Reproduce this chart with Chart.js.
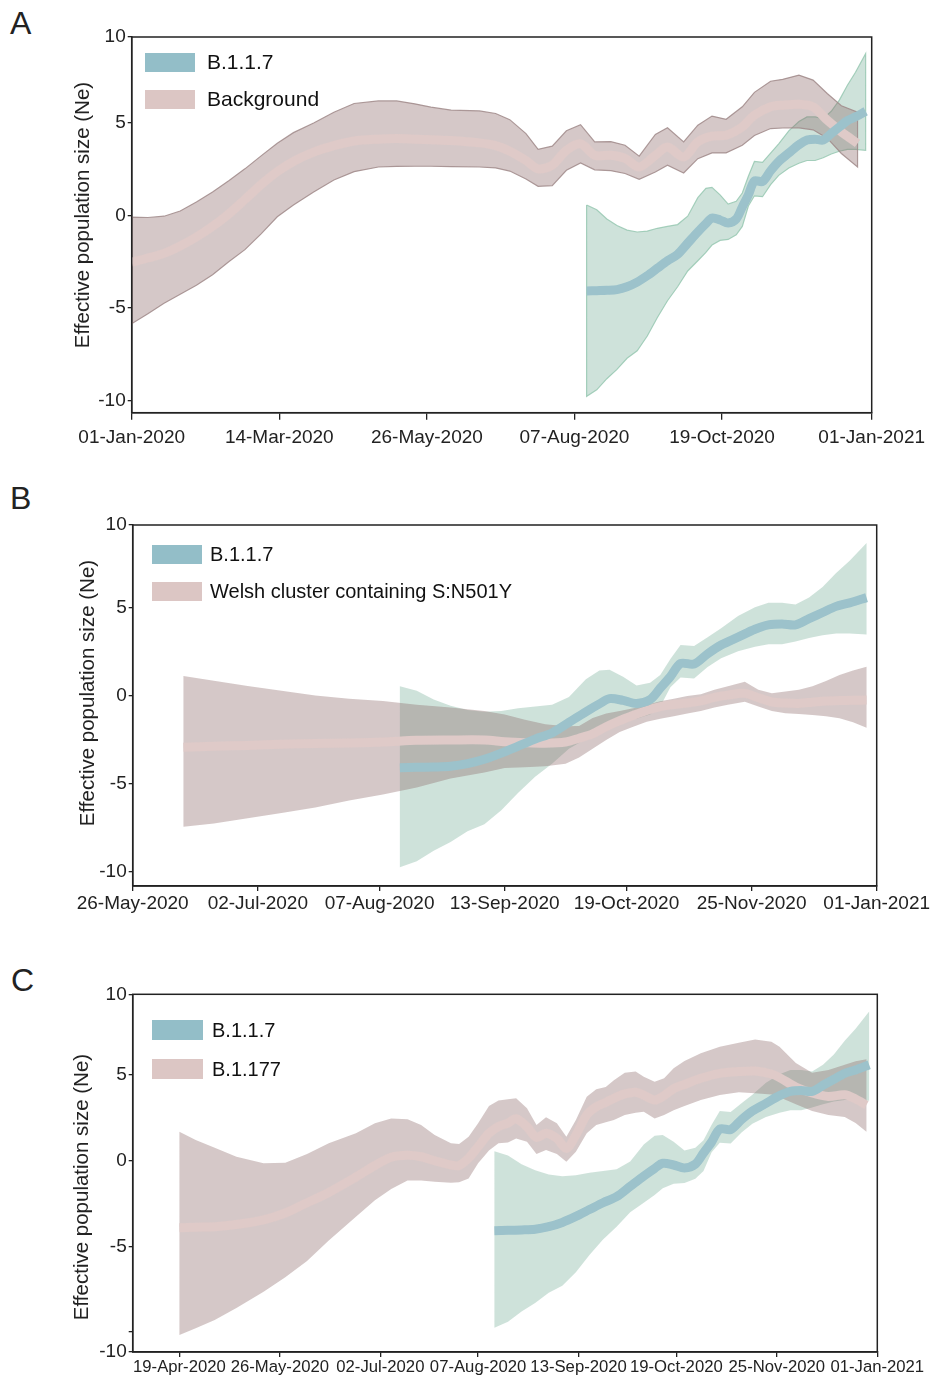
<!DOCTYPE html>
<html>
<head>
<meta charset="utf-8">
<script src="https://cdn.jsdelivr.net/npm/chart.js@4.4.1/dist/chart.umd.min.js"></script>
<style>
  body { margin: 0; background: #fff; }
  #wrap { position: relative; width: 944px; height: 1378px; font-family: "Liberation Sans", Arial, sans-serif; }
  canvas { position: absolute; left: 0; }
  .tag { position: absolute; font-size: 32px; line-height: 32px; color: #222; }
</style>
</head>
<body>
<div id="wrap">
  <div class="tag" style="left:10px;top:7px">A</div>
  <div class="tag" style="left:10px;top:482px">B</div>
  <div class="tag" style="left:11px;top:964px">C</div>
  <canvas id="chartA" width="944" height="462" style="top:0px"></canvas>
  <canvas id="chartB" width="944" height="460" style="top:470px"></canvas>
  <canvas id="chartC" width="944" height="438" style="top:940px"></canvas>
</div>
<script>
// days are counted from 01-Jan-2020 (day 0)
const b117Days = [225, 230, 235, 240, 245, 250, 255, 260, 265, 270, 275, 280, 284, 287, 291, 295, 299, 302, 305, 308, 312, 316, 320, 325, 330, 334, 338, 342, 346, 350, 354, 358, 363];
const b117Mid  = [-4.08, -4.06, -4.04, -4.0, -3.85, -3.6, -3.25, -2.85, -2.45, -2.1, -1.5, -0.9, -0.45, -0.15, -0.25, -0.42, -0.2, 0.45, 1.1, 1.85, 1.82, 2.4, 2.9, 3.35, 3.8, 4.05, 4.1, 4.05, 4.4, 4.75, 5.1, 5.3, 5.6];
const b117Lo   = [-9.75, -9.4, -8.8, -8.3, -7.7, -7.3, -6.5, -5.5, -4.6, -3.85, -3.0, -2.45, -2.0, -1.6, -1.35, -1.3, -1.05, -0.6, 0.5, 1.05, 1.0, 1.65, 2.15, 2.55, 2.8, 2.95, 2.95, 3.1, 3.3, 3.45, 3.55, 3.55, 3.5];
const b117Hi   = [0.55, 0.3, -0.2, -0.55, -0.8, -0.9, -0.85, -0.7, -0.6, -0.5, -0.05, 0.95, 1.45, 1.5, 1.1, 0.6, 0.75, 1.2, 2.1, 2.9, 2.85, 3.35, 3.85, 4.55, 5.05, 5.3, 5.3, 5.2, 5.6, 6.2, 7.0, 7.7, 8.7];

const bgDays = [0, 8, 16, 24, 32, 40, 48, 56, 64, 72, 80, 90, 100, 110, 122, 131, 140, 148, 158, 172, 180, 187, 195, 201, 208, 215, 222, 229, 237, 244, 251, 259, 265, 273, 280, 287, 294, 302, 308, 316, 322, 330, 337, 344, 351, 359];
const bgMid  = [-2.52, -2.3, -2.05, -1.65, -1.17, -0.6, 0.07, 0.85, 1.65, 2.35, 2.9, 3.4, 3.75, 4.0, 4.1, 4.13, 4.1, 4.07, 4.03, 3.9, 3.75, 3.45, 2.95, 2.5, 2.7, 3.5, 3.85, 3.23, 3.23, 3.06, 2.6, 3.23, 3.68, 3.14, 3.95, 4.26, 4.31, 4.76, 5.39, 5.84, 5.93, 5.98, 5.84, 5.12, 4.49, 3.87];
const bgLo   = [-5.84, -5.3, -4.74, -4.25, -3.77, -3.2, -2.5, -1.85, -1.0, -0.08, 0.55, 1.25, 1.9, 2.35, 2.6, 2.63, 2.64, 2.64, 2.62, 2.6, 2.55, 2.38, 1.95, 1.56, 1.6, 2.42, 2.82, 2.45, 2.4, 2.25, 1.94, 2.33, 2.7, 2.28, 3.05, 3.36, 3.36, 3.77, 4.3, 4.67, 4.7, 4.71, 4.6, 4.15, 3.33, 2.6];
const bgHi   = [-0.1, -0.12, -0.05, 0.23, 0.72, 1.26, 1.86, 2.5, 3.2, 3.88, 4.45, 4.97, 5.55, 6.02, 6.16, 6.16, 6.0, 5.82, 5.66, 5.62, 5.48, 5.15, 4.4, 3.55, 3.72, 4.55, 4.88, 3.95, 3.97, 3.77, 3.18, 4.35, 4.71, 3.95, 4.85, 5.34, 5.17, 5.84, 6.62, 7.22, 7.32, 7.55, 7.28, 6.56, 5.9, 5.55];

const welshDays = [161, 170, 180, 190, 200, 210, 220, 230, 240, 250, 256, 262, 268, 274, 278, 282, 286, 290, 294, 298, 302, 306, 310, 314, 318, 322, 327, 331, 335, 339, 343, 347, 351, 355, 359, 363];
const welshMid  = [-2.92, -2.86, -2.81, -2.75, -2.7, -2.67, -2.62, -2.52, -2.5, -2.5, -2.6, -2.66, -2.69, -2.62, -2.4, -2.15, -1.75, -1.4, -1.1, -0.82, -0.6, -0.48, -0.4, -0.28, -0.08, 0.05, 0.15, -0.1, -0.34, -0.4, -0.42, -0.35, -0.28, -0.26, -0.24, -0.23];
const welshLo   = [-7.44, -7.25, -6.95, -6.65, -6.35, -5.95, -5.6, -5.2, -4.7, -4.35, -4.1, -4.05, -4.0, -3.85, -3.5, -3.0, -2.5, -2.05, -1.75, -1.47, -1.3, -1.15, -1.0, -0.85, -0.65, -0.5, -0.32, -0.6, -0.85, -0.98, -1.03, -1.08, -1.15, -1.27, -1.5, -1.8];
const welshHi   = [1.14, 0.87, 0.57, 0.3, 0.03, -0.15, -0.28, -0.5, -0.65, -0.85, -1.05, -1.35, -1.6, -1.72, -1.7, -1.25, -1.0, -0.85, -0.7, -0.5, -0.3, -0.15, 0.0, 0.1, 0.35, 0.55, 0.81, 0.35, 0.15, 0.25, 0.35, 0.55, 0.85, 1.2, 1.45, 1.67];

const b1177Days = [109, 115, 122, 130, 140, 148, 156, 164, 174, 181, 187, 193, 198, 203, 209, 212, 215.5, 219, 223, 226.5, 230, 233, 237, 240.5, 244, 248, 251.5, 255, 259, 262.5, 266, 269, 273, 277, 280, 284, 287.5, 291, 295, 301, 308, 315, 321, 327, 330, 336, 342, 348, 354, 358, 362];
const b1177Mid  = [-3.91, -3.88, -3.85, -3.72, -3.45, -3.05, -2.45, -1.85, -0.95, -0.28, 0.2, 0.32, 0.23, 0.0, -0.25, -0.28, 0.15, 0.82, 1.6, 2.0, 2.2, 2.45, 1.98, 1.35, 1.6, 1.3, 0.72, 1.5, 2.67, 3.15, 3.4, 3.64, 3.9, 4.0, 3.83, 3.54, 3.8, 4.2, 4.45, 4.81, 5.1, 5.2, 5.23, 5.06, 4.85, 4.3, 3.95, 3.75, 3.85, 3.6, 3.25];
const b1177Lo   = [-10.17, -9.78, -9.3, -8.6, -7.65, -6.8, -5.85, -4.65, -3.27, -2.3, -1.65, -1.15, -1.15, -1.22, -1.28, -1.25, -1.03, -0.15, 0.6, 1.02, 1.07, 1.3, 1.1, 0.39, 0.62, 0.39, -0.06, 0.53, 1.6, 2.08, 2.25, 2.37, 2.67, 2.8, 2.86, 2.47, 2.67, 2.95, 3.2, 3.54, 3.83, 4.0, 3.93, 3.87, 3.7, 3.3, 2.9, 2.67, 2.55, 2.2, 1.69];
const b1177Hi   = [1.69, 1.21, 0.75, 0.23, -0.15, -0.12, 0.39, 1.02, 1.6, 2.18, 2.47, 2.42, 2.08, 1.5, 1.02, 0.97, 1.4, 2.18, 3.19, 3.52, 3.58, 3.64, 3.06, 2.08, 2.53, 2.18, 1.4, 2.37, 3.73, 4.17, 4.3, 4.7, 5.13, 5.2, 4.9, 4.61, 4.81, 5.39, 5.82, 6.27, 6.65, 6.88, 7.08, 6.94, 6.65, 5.7, 5.13, 5.29, 5.6, 5.8, 5.92];

const xLabelsA = ['01-Jan-2020', '14-Mar-2020', '26-May-2020', '07-Aug-2020', '19-Oct-2020', '01-Jan-2021'];
const xLabelsB = ['26-May-2020', '02-Jul-2020', '07-Aug-2020', '13-Sep-2020', '19-Oct-2020', '25-Nov-2020', '01-Jan-2021'];
const xLabelsC = ['19-Apr-2020', '26-May-2020', '02-Jul-2020', '07-Aug-2020', '13-Sep-2020', '19-Oct-2020', '25-Nov-2020', '01-Jan-2021'];

const yTicksA = [-10, -5, 0, 5, 9.6];
const yTicksB = [-10, -5, 0, 5, 9.73];
const yTicksC = [-11.16, -10, -5, 0, 5, 9.71];
const yLabels = ['-10', '-5', '0', '5', '10'];
const yLabelsC = ['-10', '', '-5', '0', '5', '10'];

const FONT = '"Liberation Sans", Arial, sans-serif';
const BLUE = '#9cc2cb', PINK = '#dfcac8';
const GREEN_FILL = 'rgba(92,158,132,0.3)', RED_FILL = 'rgba(140,107,107,0.37)';
const MONTHS = ['Jan', 'Feb', 'Mar', 'Apr', 'May', 'Jun', 'Jul', 'Aug', 'Sep', 'Oct', 'Nov', 'Dec'];

const dayOf = s => {
  const [d, m, y] = s.split('-');
  return (Date.UTC(+y, MONTHS.indexOf(m), +d) - Date.UTC(2020, 0, 1)) / 86400000;
};
const linePts = (days, vals) => days.map((d, i) => ({x: d, y: vals[i]}));
const bandPts = (days, lo, hi) => [
  ...linePts(days, hi),
  ...linePts(days, lo).reverse(),
  {x: days[0], y: hi[0]}
];

const lineSet = (days, vals, color) => ({
  data: linePts(days, vals), borderColor: color, borderWidth: 9,
  borderCapStyle: 'butt', tension: 0.3, fill: false, pointRadius: 0
});
const bandSet = (days, lo, hi, fillColor, edge) => ({
  data: bandPts(days, lo, hi), backgroundColor: fillColor,
  borderColor: edge || 'rgba(0,0,0,0)', borderWidth: 1.2,
  tension: 0, fill: 'shape', pointRadius: 0
});

function panel(id, p) {
  const decor = {
    id: 'decor',
    afterDraw(chart) {
      const {ctx, chartArea: a} = chart;
      ctx.save();
      ctx.strokeStyle = '#222';
      ctx.lineWidth = 1.5;
      ctx.strokeRect(a.left, a.top, a.right - a.left, a.bottom - a.top);
      // legend
      ctx.font = p.legendFont + 'px ' + FONT;
      ctx.textBaseline = 'middle';
      p.legend.forEach(it => {
        ctx.fillStyle = it.color;
        ctx.fillRect(p.legendX, it.y, p.legendW, p.legendH);
        ctx.fillStyle = '#111';
        ctx.fillText(it.text, p.legendTextX, it.y + p.legendH / 2 + 1);
      });
      // y axis title
      ctx.translate(p.titleX, p.titleY);
      ctx.rotate(-Math.PI / 2);
      ctx.textAlign = 'center';
      ctx.font = '20.5px ' + FONT;
      ctx.fillStyle = '#222';
      ctx.fillText('Effective population size (Ne)', 0, 0);
      ctx.restore();
    }
  };

  new Chart(document.getElementById(id), {
    type: 'line',
    data: {datasets: p.datasets},
    options: {
      responsive: false,
      animation: false,
      events: [],
      layout: {padding: {top: p.top, right: p.right, left: 0, bottom: 0}},
      plugins: {legend: {display: false}, tooltip: {enabled: false}},
      scales: {
        x: {
          type: 'linear', min: p.xMin, max: p.xMax,
          afterBuildTicks: s => { s.ticks = p.xLabels.map(l => ({value: dayOf(l)})); },
          afterFit: s => { s.height = p.xHeight; },
          grid: {drawOnChartArea: false, tickLength: p.xTickLen, color: '#222', lineWidth: 1.3},
          border: {color: '#222', width: 1.5},
          ticks: {
            autoSkip: false, maxRotation: 0, padding: p.xPad, color: '#222',
            font: {family: FONT, size: p.xFont},
            callback: (v, i) => p.xLabels[i]
          }
        },
        y: {
          type: 'linear', min: p.yMin, max: p.yMax,
          afterBuildTicks: s => { s.ticks = p.yTicks.map(v => ({value: v})); },
          afterFit: s => { s.width = p.left; },
          grid: {drawOnChartArea: false, tickLength: 4, color: '#222', lineWidth: 1.3},
          border: {color: '#222', width: 1.5},
          ticks: {
            padding: 2, color: '#222',
            font: {family: FONT, size: 19},
            callback: (v, i) => p.yLabels[i]
          }
        }
      }
    },
    plugins: [decor]
  });
}

panel('chartA', {
  datasets: [
    lineSet(b117Days, b117Mid, BLUE),
    lineSet(bgDays, bgMid, PINK),
    bandSet(bgDays, bgLo, bgHi, RED_FILL, 'rgba(160,138,138,0.85)'),
    bandSet(b117Days, b117Lo, b117Hi, GREEN_FILL, 'rgba(150,200,178,0.85)')
  ],
  top: 37, right: 72.3, left: 131.7, xHeight: 49.3,
  xMin: 0, xMax: 366, xLabels: xLabelsA, xFont: 19, xTickLen: 7, xPad: 7,
  yMin: -10.63, yMax: 9.6, yTicks: yTicksA, yLabels: yLabels,
  legendX: 145, legendW: 50, legendH: 19, legendTextX: 207, legendFont: 21,
  legend: [{text: 'B.1.1.7', color: '#93bec8', y: 53}, {text: 'Background', color: '#dcc6c4', y: 90}],
  titleX: 83, titleY: 215
});

panel('chartB', {
  datasets: [
    lineSet(b117Days, b117Mid, BLUE),
    lineSet(welshDays, welshMid, PINK),
    bandSet(welshDays, welshLo, welshHi, RED_FILL),
    bandSet(b117Days, b117Lo, b117Hi, GREEN_FILL)
  ],
  top: 55, right: 67.3, left: 132.7, xHeight: 44,
  xMin: 146, xMax: 366, xLabels: xLabelsB, xFont: 19, xTickLen: 5, xPad: 1,
  yMin: -10.81, yMax: 9.73, yTicks: yTicksB, yLabels: yLabels,
  legendX: 152, legendW: 50, legendH: 19, legendTextX: 210, legendFont: 20,
  legend: [{text: 'B.1.1.7', color: '#93bec8', y: 75}, {text: 'Welsh cluster containing S:N501Y', color: '#dcc6c4', y: 112}],
  titleX: 88, titleY: 223
});

panel('chartC', {
  datasets: [
    lineSet(b117Days, b117Mid, BLUE),
    lineSet(b1177Days, b1177Mid, PINK),
    bandSet(b1177Days, b1177Lo, b1177Hi, RED_FILL),
    bandSet(b117Days, b117Lo, b117Hi, GREEN_FILL)
  ],
  top: 54.3, right: 66.7, left: 132.7, xHeight: 26,
  xMin: 91.8, xMax: 366, xLabels: xLabelsC, xFont: 16.7, xTickLen: 5, xPad: 0,
  yMin: -11.16, yMax: 9.71, yTicks: yTicksC, yLabels: yLabelsC,
  legendX: 152, legendW: 51, legendH: 20, legendTextX: 212, legendFont: 20,
  legend: [{text: 'B.1.1.7', color: '#93bec8', y: 80}, {text: 'B.1.177', color: '#dcc6c4', y: 119}],
  titleX: 82, titleY: 247
});
</script>
</body>
</html>
